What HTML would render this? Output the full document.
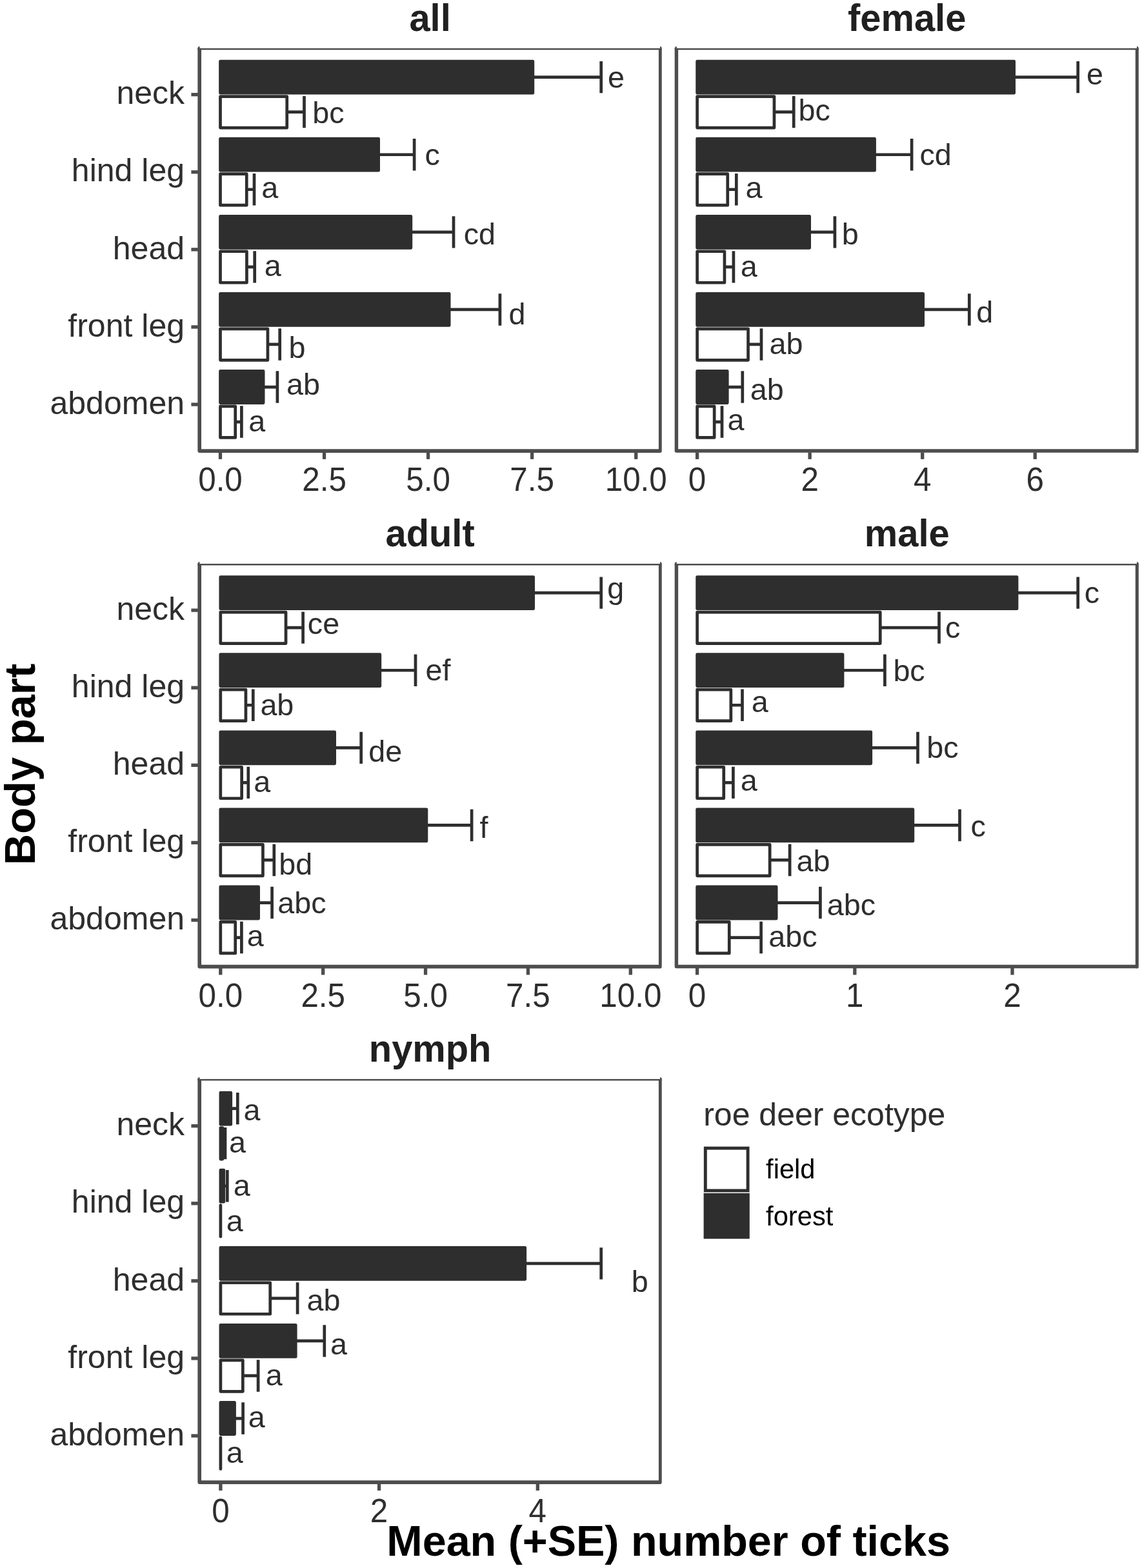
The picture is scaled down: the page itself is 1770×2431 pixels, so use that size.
<!DOCTYPE html>
<html lang="en"><head><meta charset="utf-8"><title>Mean (+SE) number of ticks by body part</title>
<style>html,body{margin:0;padding:0;background:#fff}body{width:1770px;height:2431px;overflow:hidden}svg{display:block}text{font-family:"Liberation Sans",sans-serif}.lb{font-size:46.7px;fill:#2e2e2e}.ax{font-size:50px;fill:#2e2e2e}.st{font-size:58.33px;font-weight:700;fill:#202020;text-anchor:middle}.at{font-size:66.67px;font-weight:700;fill:#000;text-anchor:middle}.b{stroke:#2e2e2e;stroke-width:4.7;stroke-linejoin:round}.e{stroke:#2e2e2e;stroke-width:4.7;fill:none}.l{fill:#4d4d4d}</style></head><body>
<svg width="1770" height="2431" viewBox="0 0 1770 2431">
<rect width="1770" height="2431" fill="#fff"/>
<g>
<text class="st" transform="translate(666.6 47.6) scale(.992 1)">all</text>
<path class="e" d="M825.85 119.65H931.7M931.7 94.95V144.35"/>
<rect class="b" x="341.5" y="95.05" width="484.35" height="49.1" fill="#2e2e2e"/>
<text class="lb" x="942.02" y="136.3">e</text>
<path class="e" d="M444.75 173.65H471.5M471.5 148.95V198.35"/>
<rect class="b" x="341.5" y="149.55" width="103.25" height="48.5" fill="#fff"/>
<text class="lb" x="484.29" y="191.3">bc</text>
<path class="e" d="M586.65 239.75H642.1M642.1 215.05V264.45"/>
<rect class="b" x="341.5" y="215.15" width="245.15" height="49.1" fill="#2e2e2e"/>
<text class="lb" x="658.62" y="255.5">c</text>
<path class="e" d="M382.25 293.75H394M394 269.05V318.45"/>
<rect class="b" x="341.5" y="269.65" width="40.75" height="48.5" fill="#fff"/>
<text class="lb" x="405.32" y="307.1">a</text>
<path class="e" d="M636.85 359.85H703M703 335.15V384.55"/>
<rect class="b" x="341.5" y="335.25" width="295.35" height="49.1" fill="#2e2e2e"/>
<text class="lb" x="718.72" y="379">cd</text>
<path class="e" d="M382.45 413.85H394.7M394.7 389.15V438.55"/>
<rect class="b" x="341.5" y="389.75" width="40.95" height="48.5" fill="#fff"/>
<text class="lb" x="409.72" y="428">a</text>
<path class="e" d="M696.15 479.95H774.9M774.9 455.25V504.65"/>
<rect class="b" x="341.5" y="455.35" width="354.65" height="49.1" fill="#2e2e2e"/>
<text class="lb" x="788.44" y="502.6">d</text>
<path class="e" d="M414.95 533.95H433.7M433.7 509.25V558.65"/>
<rect class="b" x="341.5" y="509.85" width="73.45" height="48.5" fill="#fff"/>
<text class="lb" x="447.39" y="555.4">b</text>
<path class="e" d="M408.15 600.05H429.9M429.9 575.35V624.75"/>
<rect class="b" x="341.5" y="575.45" width="66.65" height="49.1" fill="#2e2e2e"/>
<text class="lb" x="444.12" y="611.5">ab</text>
<path class="e" d="M364.75 654.05H374.4M374.4 629.35V678.75"/>
<rect class="b" x="341.5" y="629.95" width="23.25" height="48.5" fill="#fff"/>
<text class="lb" x="385.22" y="668.9">a</text>
<rect class="l" x="306.4" y="74.8" width="719.3" height="2.5"/>
<path fill="none" stroke="#4d4d4d" stroke-width="5.65" stroke-linejoin="round" d="M309.2 74.8V699.05H1023.3"/>
<path fill="none" stroke="#4d4d4d" stroke-width="4.8" stroke-linecap="round" d="M1023.3 77.2V699.5"/>
<path class="l" d="M306.4 75.3V74.2Q306.8 72.2 309.5 71.8V75.3Z"/>
<path class="l" d="M1025.7 75.3V74.2Q1025.3 72.2 1023 71.8V75.3Z"/>
<rect class="l" x="338.85" y="701.4" width="5.3" height="10.5"/>
<text class="ax" text-anchor="middle" transform="translate(341.5 761) scale(.987 1.028)">0.0</text>
<rect class="l" x="499.9" y="701.4" width="5.3" height="10.5"/>
<text class="ax" text-anchor="middle" transform="translate(502.55 761) scale(.987 1.028)">2.5</text>
<rect class="l" x="660.95" y="701.4" width="5.3" height="10.5"/>
<text class="ax" text-anchor="middle" transform="translate(663.6 761) scale(.987 1.028)">5.0</text>
<rect class="l" x="822" y="701.4" width="5.3" height="10.5"/>
<text class="ax" text-anchor="middle" transform="translate(824.65 761) scale(.987 1.028)">7.5</text>
<rect class="l" x="983.05" y="701.4" width="5.3" height="10.5"/>
<text class="ax" text-anchor="middle" transform="translate(985.7 761) scale(.987 1.028)">10.0</text>
<rect class="l" x="296.4" y="144" width="10.5" height="5.3"/>
<text class="ax" text-anchor="end" x="286" y="161.35">neck</text>
<rect class="l" x="296.4" y="264.1" width="10.5" height="5.3"/>
<text class="ax" text-anchor="end" x="286" y="281.45">hind leg</text>
<rect class="l" x="296.4" y="384.2" width="10.5" height="5.3"/>
<text class="ax" text-anchor="end" x="286" y="401.55">head</text>
<rect class="l" x="296.4" y="504.3" width="10.5" height="5.3"/>
<text class="ax" text-anchor="end" x="286" y="521.65">front leg</text>
<rect class="l" x="296.4" y="624.4" width="10.5" height="5.3"/>
<text class="ax" text-anchor="end" x="286" y="641.75">abdomen</text>
</g>
<g>
<text class="st" transform="translate(1405.7 47.6) scale(.992 1)">female</text>
<path class="e" d="M1571.65 119.65H1670.7M1670.7 94.95V144.35"/>
<rect class="b" x="1080.6" y="95.05" width="491.05" height="49.1" fill="#2e2e2e"/>
<text class="lb" x="1684.12" y="131">e</text>
<path class="e" d="M1199.95 173.65H1230.2M1230.2 148.95V198.35"/>
<rect class="b" x="1080.6" y="149.55" width="119.35" height="48.5" fill="#fff"/>
<text class="lb" x="1237.59" y="187.2">bc</text>
<path class="e" d="M1355.55 239.75H1413.1M1413.1 215.05V264.45"/>
<rect class="b" x="1080.6" y="215.15" width="274.95" height="49.1" fill="#2e2e2e"/>
<text class="lb" x="1425.52" y="256.2">cd</text>
<path class="e" d="M1127.75 293.75H1141.3M1141.3 269.05V318.45"/>
<rect class="b" x="1080.6" y="269.65" width="47.15" height="48.5" fill="#fff"/>
<text class="lb" x="1155.52" y="307.1">a</text>
<path class="e" d="M1254.65 359.85H1293.9M1293.9 335.15V384.55"/>
<rect class="b" x="1080.6" y="335.25" width="174.05" height="49.1" fill="#2e2e2e"/>
<text class="lb" x="1304.69" y="379">b</text>
<path class="e" d="M1122.95 413.85H1136.9M1136.9 389.15V438.55"/>
<rect class="b" x="1080.6" y="389.75" width="42.35" height="48.5" fill="#fff"/>
<text class="lb" x="1147.72" y="429.2">a</text>
<path class="e" d="M1430.65 479.95H1502.3M1502.3 455.25V504.65"/>
<rect class="b" x="1080.6" y="455.35" width="350.05" height="49.1" fill="#2e2e2e"/>
<text class="lb" x="1513.34" y="500.2">d</text>
<path class="e" d="M1159.55 533.95H1180M1180 509.25V558.65"/>
<rect class="b" x="1080.6" y="509.85" width="78.95" height="48.5" fill="#fff"/>
<text class="lb" x="1192.52" y="549.1">ab</text>
<path class="e" d="M1127.25 600.05H1150.8M1150.8 575.35V624.75"/>
<rect class="b" x="1080.6" y="575.45" width="46.65" height="49.1" fill="#2e2e2e"/>
<text class="lb" x="1162.72" y="619.5">ab</text>
<path class="e" d="M1107.15 654.05H1119M1119 629.35V678.75"/>
<rect class="b" x="1080.6" y="629.95" width="26.55" height="48.5" fill="#fff"/>
<text class="lb" x="1127.62" y="666.7">a</text>
<rect class="l" x="1045.8" y="74.8" width="719" height="2.5"/>
<path fill="none" stroke="#4d4d4d" stroke-width="5.45" stroke-linejoin="round" d="M1048.4 74.8V699.05H1762.3"/>
<path fill="none" stroke="#4d4d4d" stroke-width="5" stroke-linecap="round" d="M1762.3 77.3V699.4"/>
<path class="l" d="M1045.8 75.3V74.2Q1046.2 72.2 1048.7 71.8V75.3Z"/>
<path class="l" d="M1764.8 75.3V74.2Q1764.4 72.2 1762 71.8V75.3Z"/>
<rect class="l" x="1077.95" y="701.4" width="5.3" height="10.5"/>
<text class="ax" text-anchor="middle" transform="translate(1080.6 761) scale(.987 1.028)">0</text>
<rect class="l" x="1252.49" y="701.4" width="5.3" height="10.5"/>
<text class="ax" text-anchor="middle" transform="translate(1255.14 761) scale(.987 1.028)">2</text>
<rect class="l" x="1427.03" y="701.4" width="5.3" height="10.5"/>
<text class="ax" text-anchor="middle" transform="translate(1429.68 761) scale(.987 1.028)">4</text>
<rect class="l" x="1601.57" y="701.4" width="5.3" height="10.5"/>
<text class="ax" text-anchor="middle" transform="translate(1604.22 761) scale(.987 1.028)">6</text>
</g>
<g>
<text class="st" transform="translate(666.6 846.7) scale(.992 1)">adult</text>
<path class="e" d="M826.65 919.15H931.7M931.7 894.45V943.85"/>
<rect class="b" x="341.8" y="894.55" width="484.85" height="49.1" fill="#2e2e2e"/>
<text class="lb" x="941.14" y="928.2">g</text>
<path class="e" d="M443.05 973.15H469.6M469.6 948.45V997.85"/>
<rect class="b" x="341.8" y="949.05" width="101.25" height="48.5" fill="#fff"/>
<text class="lb" x="476.82" y="982.5">ce</text>
<path class="e" d="M588.85 1039.25H644M644 1014.55V1063.95"/>
<rect class="b" x="341.8" y="1014.65" width="247.05" height="49.1" fill="#2e2e2e"/>
<text class="lb" x="659.52" y="1054.9">ef</text>
<path class="e" d="M380.95 1093.25H392.3M392.3 1068.55V1117.95"/>
<rect class="b" x="341.8" y="1069.15" width="39.15" height="48.5" fill="#fff"/>
<text class="lb" x="403.42" y="1109.4">ab</text>
<path class="e" d="M518.65 1159.35H559.7M559.7 1134.65V1184.05"/>
<rect class="b" x="341.8" y="1134.75" width="176.85" height="49.1" fill="#2e2e2e"/>
<text class="lb" x="571.34" y="1181.4">de</text>
<path class="e" d="M374.65 1213.35H384.8M384.8 1188.65V1238.05"/>
<rect class="b" x="341.8" y="1189.25" width="32.85" height="48.5" fill="#fff"/>
<text class="lb" x="393.22" y="1228.2">a</text>
<path class="e" d="M660.95 1279.45H731.1M731.1 1254.75V1304.15"/>
<rect class="b" x="341.8" y="1254.85" width="319.15" height="49.1" fill="#2e2e2e"/>
<text class="lb" x="743.54" y="1298.7">f</text>
<path class="e" d="M407.45 1333.45H424.8M424.8 1308.75V1358.15"/>
<rect class="b" x="341.8" y="1309.35" width="65.65" height="48.5" fill="#fff"/>
<text class="lb" x="432.19" y="1355.7">bd</text>
<path class="e" d="M400.65 1399.55H421.6M421.6 1374.85V1424.25"/>
<rect class="b" x="341.8" y="1374.95" width="58.85" height="49.1" fill="#2e2e2e"/>
<text class="lb" x="430.32" y="1416.2">abc</text>
<path class="e" d="M364.75 1453.55H374.4M374.4 1428.85V1478.25"/>
<rect class="b" x="341.8" y="1429.45" width="22.95" height="48.5" fill="#fff"/>
<text class="lb" x="382.82" y="1467.1">a</text>
<rect class="l" x="306.4" y="874" width="719.3" height="2.5"/>
<path fill="none" stroke="#4d4d4d" stroke-width="5.65" stroke-linejoin="round" d="M309.2 874V1498.55H1023.3"/>
<path fill="none" stroke="#4d4d4d" stroke-width="4.8" stroke-linecap="round" d="M1023.3 876.4V1499"/>
<path class="l" d="M306.4 874.5V873.4Q306.8 871.4 309.5 871V874.5Z"/>
<path class="l" d="M1025.7 874.5V873.4Q1025.3 871.4 1023 871V874.5Z"/>
<rect class="l" x="339.15" y="1500.9" width="5.3" height="10.5"/>
<text class="ax" text-anchor="middle" transform="translate(341.8 1560.5) scale(.987 1.028)">0.0</text>
<rect class="l" x="498.03" y="1500.9" width="5.3" height="10.5"/>
<text class="ax" text-anchor="middle" transform="translate(500.68 1560.5) scale(.987 1.028)">2.5</text>
<rect class="l" x="656.9" y="1500.9" width="5.3" height="10.5"/>
<text class="ax" text-anchor="middle" transform="translate(659.55 1560.5) scale(.987 1.028)">5.0</text>
<rect class="l" x="815.77" y="1500.9" width="5.3" height="10.5"/>
<text class="ax" text-anchor="middle" transform="translate(818.42 1560.5) scale(.987 1.028)">7.5</text>
<rect class="l" x="974.65" y="1500.9" width="5.3" height="10.5"/>
<text class="ax" text-anchor="middle" transform="translate(977.3 1560.5) scale(.987 1.028)">10.0</text>
<rect class="l" x="296.4" y="943.5" width="10.5" height="5.3"/>
<text class="ax" text-anchor="end" x="286" y="960.85">neck</text>
<rect class="l" x="296.4" y="1063.6" width="10.5" height="5.3"/>
<text class="ax" text-anchor="end" x="286" y="1080.95">hind leg</text>
<rect class="l" x="296.4" y="1183.7" width="10.5" height="5.3"/>
<text class="ax" text-anchor="end" x="286" y="1201.05">head</text>
<rect class="l" x="296.4" y="1303.8" width="10.5" height="5.3"/>
<text class="ax" text-anchor="end" x="286" y="1321.15">front leg</text>
<rect class="l" x="296.4" y="1423.9" width="10.5" height="5.3"/>
<text class="ax" text-anchor="end" x="286" y="1441.25">abdomen</text>
</g>
<g>
<text class="st" transform="translate(1405.7 846.7) scale(.992 1)">male</text>
<path class="e" d="M1576.05 919.15H1670.7M1670.7 894.45V943.85"/>
<rect class="b" x="1080.6" y="894.55" width="495.45" height="49.1" fill="#2e2e2e"/>
<text class="lb" x="1680.82" y="934.7">c</text>
<path class="e" d="M1364.25 973.15H1455.5M1455.5 948.45V997.85"/>
<rect class="b" x="1080.6" y="949.05" width="283.65" height="48.5" fill="#fff"/>
<text class="lb" x="1465.12" y="989.3">c</text>
<path class="e" d="M1306.05 1039.25H1371.4M1371.4 1014.55V1063.95"/>
<rect class="b" x="1080.6" y="1014.65" width="225.45" height="49.1" fill="#2e2e2e"/>
<text class="lb" x="1384.39" y="1056.1">bc</text>
<path class="e" d="M1132.85 1093.25H1150.5M1150.5 1068.55V1117.95"/>
<rect class="b" x="1080.6" y="1069.15" width="52.25" height="48.5" fill="#fff"/>
<text class="lb" x="1164.72" y="1103.9">a</text>
<path class="e" d="M1349.75 1159.35H1422.5M1422.5 1134.65V1184.05"/>
<rect class="b" x="1080.6" y="1134.75" width="269.15" height="49.1" fill="#2e2e2e"/>
<text class="lb" x="1436.29" y="1174.9">bc</text>
<path class="e" d="M1121.75 1213.35H1136.4M1136.4 1188.65V1238.05"/>
<rect class="b" x="1080.6" y="1189.25" width="41.15" height="48.5" fill="#fff"/>
<text class="lb" x="1147.72" y="1226.2">a</text>
<path class="e" d="M1414.85 1279.45H1487.5M1487.5 1254.75V1304.15"/>
<rect class="b" x="1080.6" y="1254.85" width="334.25" height="49.1" fill="#2e2e2e"/>
<text class="lb" x="1504.42" y="1297">c</text>
<path class="e" d="M1193.15 1333.45H1224.1M1224.1 1308.75V1358.15"/>
<rect class="b" x="1080.6" y="1309.35" width="112.55" height="48.5" fill="#fff"/>
<text class="lb" x="1234.52" y="1350.8">ab</text>
<path class="e" d="M1203.15 1399.55H1271.4M1271.4 1374.85V1424.25"/>
<rect class="b" x="1080.6" y="1374.95" width="122.55" height="49.1" fill="#2e2e2e"/>
<text class="lb" x="1281.72" y="1419.4">abc</text>
<path class="e" d="M1130.25 1453.55H1179.6M1179.6 1428.85V1478.25"/>
<rect class="b" x="1080.6" y="1429.45" width="49.65" height="48.5" fill="#fff"/>
<text class="lb" x="1191.32" y="1467.6">abc</text>
<rect class="l" x="1045.8" y="874" width="719" height="2.5"/>
<path fill="none" stroke="#4d4d4d" stroke-width="5.45" stroke-linejoin="round" d="M1048.4 874V1498.55H1762.3"/>
<path fill="none" stroke="#4d4d4d" stroke-width="5" stroke-linecap="round" d="M1762.3 876.5V1498.9"/>
<path class="l" d="M1045.8 874.5V873.4Q1046.2 871.4 1048.7 871V874.5Z"/>
<path class="l" d="M1764.8 874.5V873.4Q1764.4 871.4 1762 871V874.5Z"/>
<rect class="l" x="1077.95" y="1500.9" width="5.3" height="10.5"/>
<text class="ax" text-anchor="middle" transform="translate(1080.6 1560.5) scale(.987 1.028)">0</text>
<rect class="l" x="1322.15" y="1500.9" width="5.3" height="10.5"/>
<text class="ax" text-anchor="middle" transform="translate(1324.8 1560.5) scale(.987 1.028)">1</text>
<rect class="l" x="1566.35" y="1500.9" width="5.3" height="10.5"/>
<text class="ax" text-anchor="middle" transform="translate(1569 1560.5) scale(.987 1.028)">2</text>
</g>
<g>
<text class="st" transform="translate(666.6 1645.6) scale(.992 1)">nymph</text>
<path class="e" d="M357.75 1718.65H368.3M368.3 1693.95V1743.35"/>
<rect class="b" x="341.9" y="1694.05" width="15.85" height="49.1" fill="#2e2e2e"/>
<text class="lb" x="377.42" y="1737.2">a</text>
<path class="e" d="M344.85 1772.65H349M349 1747.95V1797.35"/>
<rect class="b" x="341.9" y="1748.55" width="2.95" height="48.5" fill="#fff"/>
<text class="lb" x="354.92" y="1786.9">a</text>
<path class="e" d="M346.85 1838.75H352.3M352.3 1814.05V1863.45"/>
<rect class="b" x="341.9" y="1814.15" width="4.95" height="49.1" fill="#2e2e2e"/>
<text class="lb" x="361.72" y="1854">a</text>
<rect class="b" x="341.9" y="1868.65" width="0.01" height="48.5" fill="#fff"/>
<text class="lb" x="350.82" y="1909.2">a</text>
<path class="e" d="M813.75 1958.85H931.7M931.7 1934.15V1983.55"/>
<rect class="b" x="341.9" y="1934.25" width="471.85" height="49.1" fill="#2e2e2e"/>
<text class="lb" x="978.79" y="2002.7">b</text>
<path class="e" d="M418.75 2012.85H461.1M461.1 1988.15V2037.55"/>
<rect class="b" x="341.9" y="1988.75" width="76.85" height="48.5" fill="#fff"/>
<text class="lb" x="475.62" y="2031.7">ab</text>
<path class="e" d="M458.25 2078.95H502.8M502.8 2054.25V2103.65"/>
<rect class="b" x="341.9" y="2054.35" width="116.35" height="49.1" fill="#2e2e2e"/>
<text class="lb" x="511.92" y="2099.6">a</text>
<path class="e" d="M376.35 2132.95H400.1M400.1 2108.25V2157.65"/>
<rect class="b" x="341.9" y="2108.85" width="34.45" height="48.5" fill="#fff"/>
<text class="lb" x="411.82" y="2148">a</text>
<path class="e" d="M363.55 2199.05H376.6M376.6 2174.35V2223.75"/>
<rect class="b" x="341.9" y="2174.45" width="21.65" height="49.1" fill="#2e2e2e"/>
<text class="lb" x="384.72" y="2212.9">a</text>
<rect class="b" x="341.9" y="2228.95" width="0.01" height="48.5" fill="#fff"/>
<text class="lb" x="350.82" y="2267.6">a</text>
<rect class="l" x="306.4" y="1672.9" width="719.3" height="2.5"/>
<path fill="none" stroke="#4d4d4d" stroke-width="5.65" stroke-linejoin="round" d="M309.2 1672.9V2298.05H1023.3"/>
<path fill="none" stroke="#4d4d4d" stroke-width="4.8" stroke-linecap="round" d="M1023.3 1675.3V2298.5"/>
<path class="l" d="M306.4 1673.4V1672.3Q306.8 1670.3 309.5 1669.9V1673.4Z"/>
<path class="l" d="M1025.7 1673.4V1672.3Q1025.3 1670.3 1023 1669.9V1673.4Z"/>
<rect class="l" x="339.25" y="2300.4" width="5.3" height="10.5"/>
<text class="ax" text-anchor="middle" transform="translate(341.9 2360) scale(.987 1.028)">0</text>
<rect class="l" x="584.95" y="2300.4" width="5.3" height="10.5"/>
<text class="ax" text-anchor="middle" transform="translate(587.6 2360) scale(.987 1.028)">2</text>
<rect class="l" x="830.65" y="2300.4" width="5.3" height="10.5"/>
<text class="ax" text-anchor="middle" transform="translate(833.3 2360) scale(.987 1.028)">4</text>
<rect class="l" x="296.4" y="1743" width="10.5" height="5.3"/>
<text class="ax" text-anchor="end" x="286" y="1760.35">neck</text>
<rect class="l" x="296.4" y="1863.1" width="10.5" height="5.3"/>
<text class="ax" text-anchor="end" x="286" y="1880.45">hind leg</text>
<rect class="l" x="296.4" y="1983.2" width="10.5" height="5.3"/>
<text class="ax" text-anchor="end" x="286" y="2000.55">head</text>
<rect class="l" x="296.4" y="2103.3" width="10.5" height="5.3"/>
<text class="ax" text-anchor="end" x="286" y="2120.65">front leg</text>
<rect class="l" x="296.4" y="2223.4" width="10.5" height="5.3"/>
<text class="ax" text-anchor="end" x="286" y="2240.75">abdomen</text>
</g>
<text class="at" transform="translate(54 1185) rotate(-90) scale(1.004 1)">Body part</text>
<text class="at" transform="translate(1036.1 2411.6) scale(.9974 1.012)">Mean (+SE) number of ticks</text>
<g>
<text class="ax" x="1090.18" y="1744.8">roe deer ecotype</text>
<rect x="1090.6" y="1848.2" width="71.2" height="2" fill="#e6e6e6"/>
<rect x="1093.3" y="1780.1" width="65.8" height="65.8" fill="#fff" stroke="#2e2e2e" stroke-width="4.9"/>
<rect x="1090.6" y="1850" width="71.2" height="70.6" fill="#2e2e2e"/>
<text x="1187.12" y="1827.3" font-size="41.67" fill="#000">field</text>
<text x="1187.12" y="1899.9" font-size="41.67" fill="#000">forest</text>
</g>
</svg></body></html>
